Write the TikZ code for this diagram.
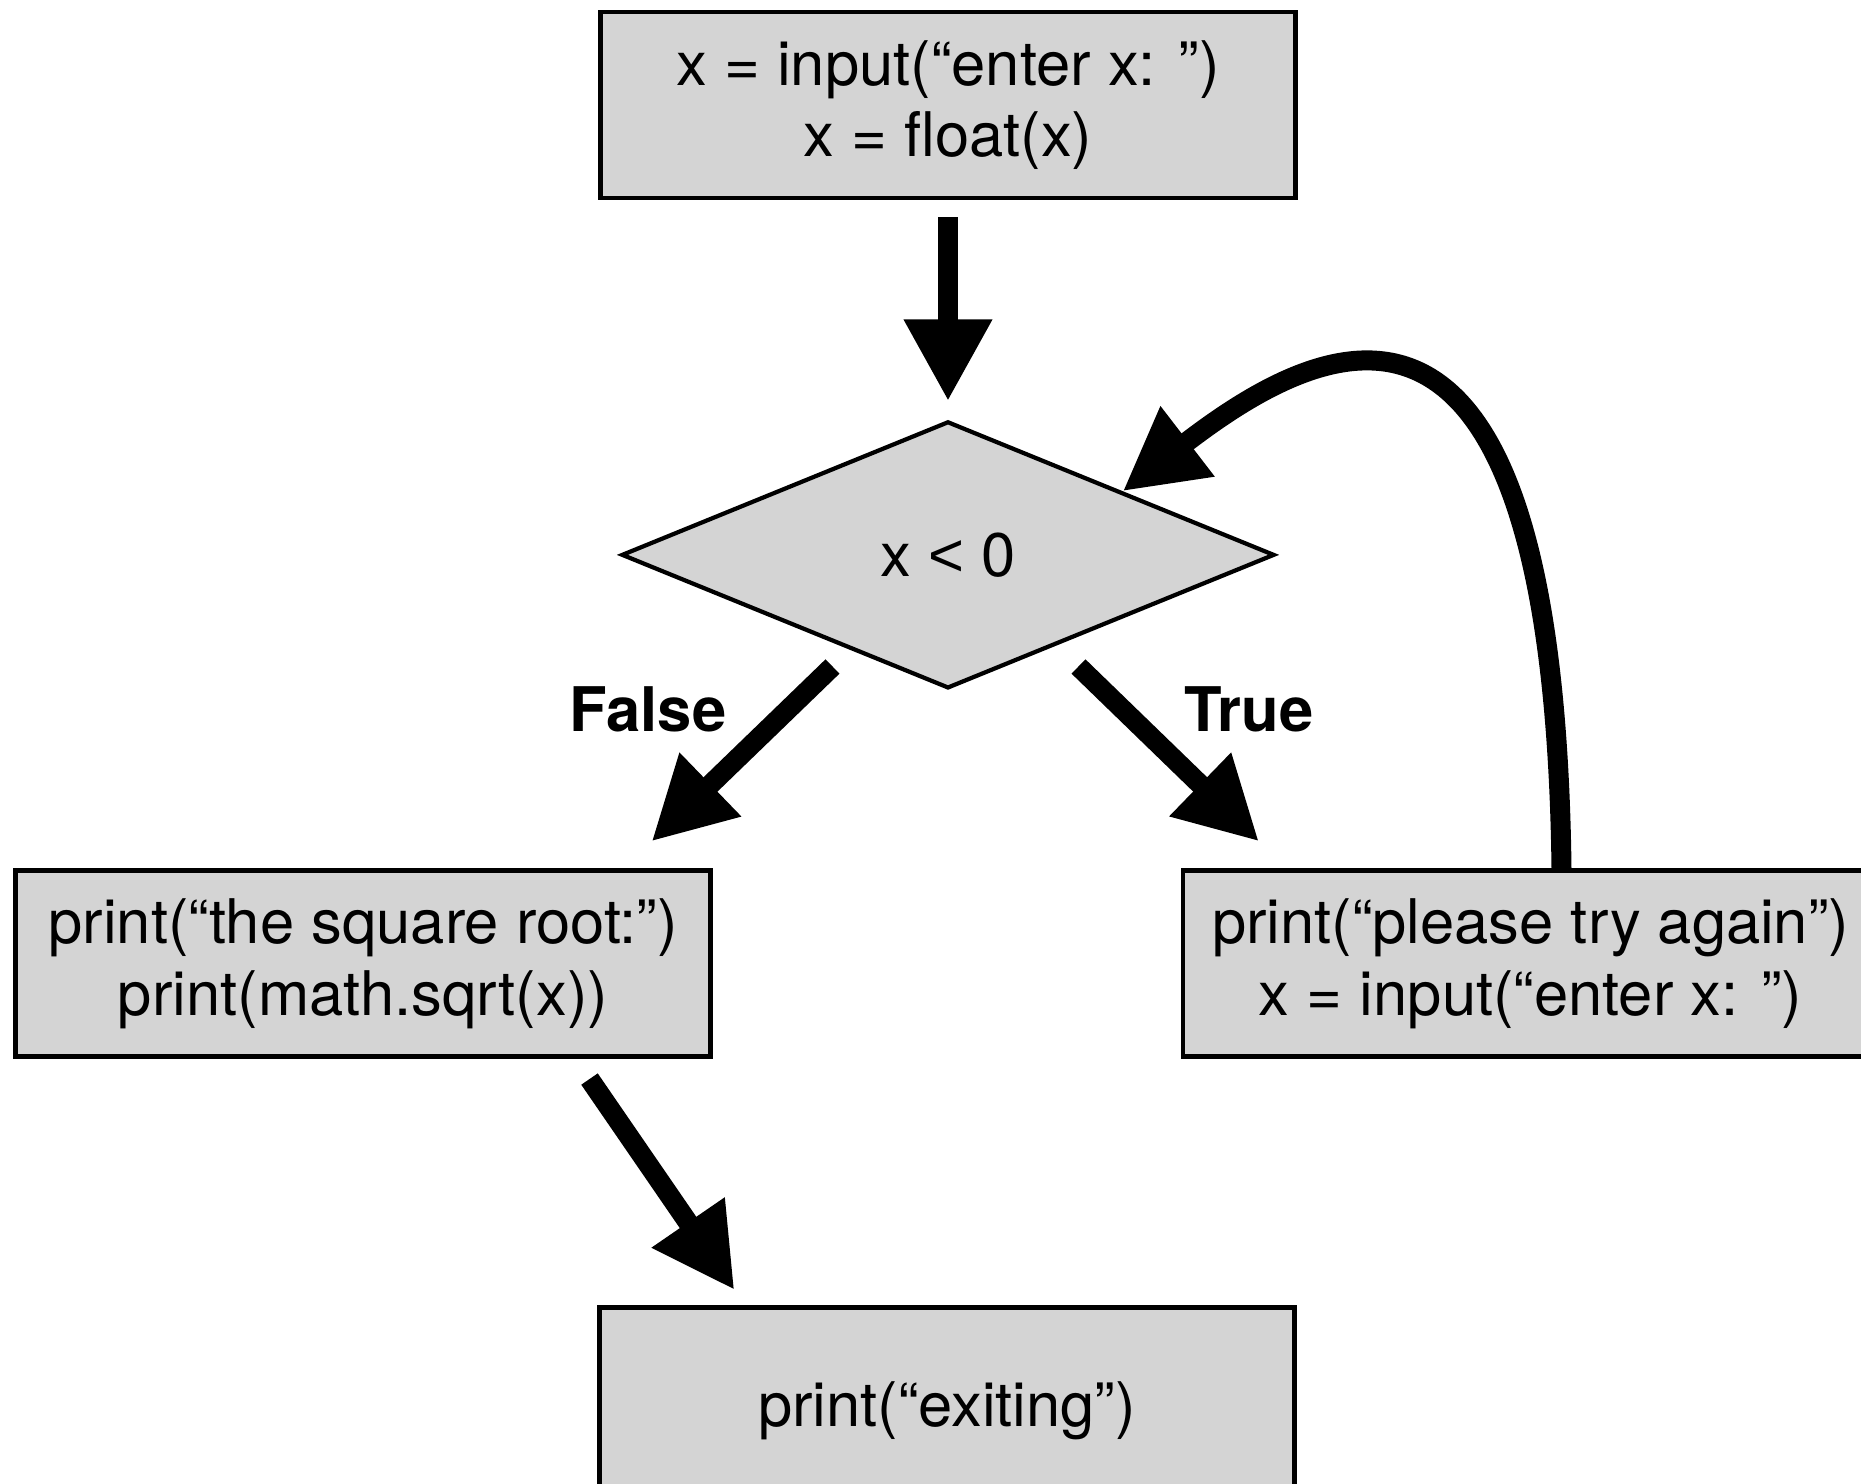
\documentclass[tikz,border=0pt]{standalone}
\usepackage{fontspec}
\setmainfont{TeX Gyre Heros}
\newfontfamily\signeF{Liberation Sans}
\usepackage{tikz}
\usetikzlibrary{arrows.meta,positioning,shapes.geometric}
\definecolor{fondC}{RGB}{212,212,212}
\tikzset{
  boite/.style={rectangle, draw=black, line width=1.3pt, fill=#1,
               align=center, font=\fontsize{17.5}{20.3}\selectfont,
               minimum width=6.95cm, minimum height=1.86cm},
  choix/.style={diamond, draw=black, line width=1.2pt, fill=#1, inner sep=0pt,
                font=\fontsize{17.5}{20.3}\selectfont, minimum width=6.53cm, minimum height=2.67cm},
  lbl/.style={font=\fontsize{17.5}{20.3}\selectfont\bfseries},
  arr/.style={-{Triangle[length=8.2mm, width=8.3mm]}, line width=2mm},
}
\begin{document}
\begin{tikzpicture}
        \useasboundingbox (0,0) rectangle (18.61,14.84);
        \node[boite=fondC] (a) at (9.48,13.79) {x = input(“enter x: ”)\\x = float(x)};
        \node[choix=fondC, below=2.19cm of a] (b) {x {\signeF <} 0};
        \node[boite=fondC, below=1.78cm of b, xshift=-5.85cm] (c)
          {print(“the square root:”)\\print(math.sqrt(x))};
        \node[boite=fondC, below=1.78cm of b, xshift=5.825cm] (d)
          {print(“please try again”)\\x = input(“enter x: ”)};
        \node[boite=fondC, minimum height=2.06cm, below=2.46cm of c, xshift=5.84cm] (e)
          {print(“exiting”)};
        \node[lbl] (f) at ([xshift=-3cm,yshift=-0.19cm]b.south) {False};
        \node[lbl] (t) at ([xshift=3.01cm,yshift=-0.19cm]b.south) {True};
        \draw[arr, shorten <=1.7mm, shorten >=1.8mm] (a) -- (b);
        \draw[arr] ([xshift=-1.155cm,yshift=0.24cm]b.south) -- ([xshift=2.885cm,yshift=0.27cm]c.north);
        \draw[arr] ([xshift=1.305cm,yshift=0.24cm]b.south) -- ([xshift=-2.715cm,yshift=0.27cm]d.north);
        \draw[arr] ([xshift=2.265cm,yshift=-0.2cm]c.south) -- ([xshift=-2.125cm,yshift=0.15cm]e.north);
        \draw[arr] ([xshift=0.31cm]d.north) .. controls +(-0.08,6.55) and +(1.95,1.5) .. (b.20);
      \end{tikzpicture}
\end{document}
